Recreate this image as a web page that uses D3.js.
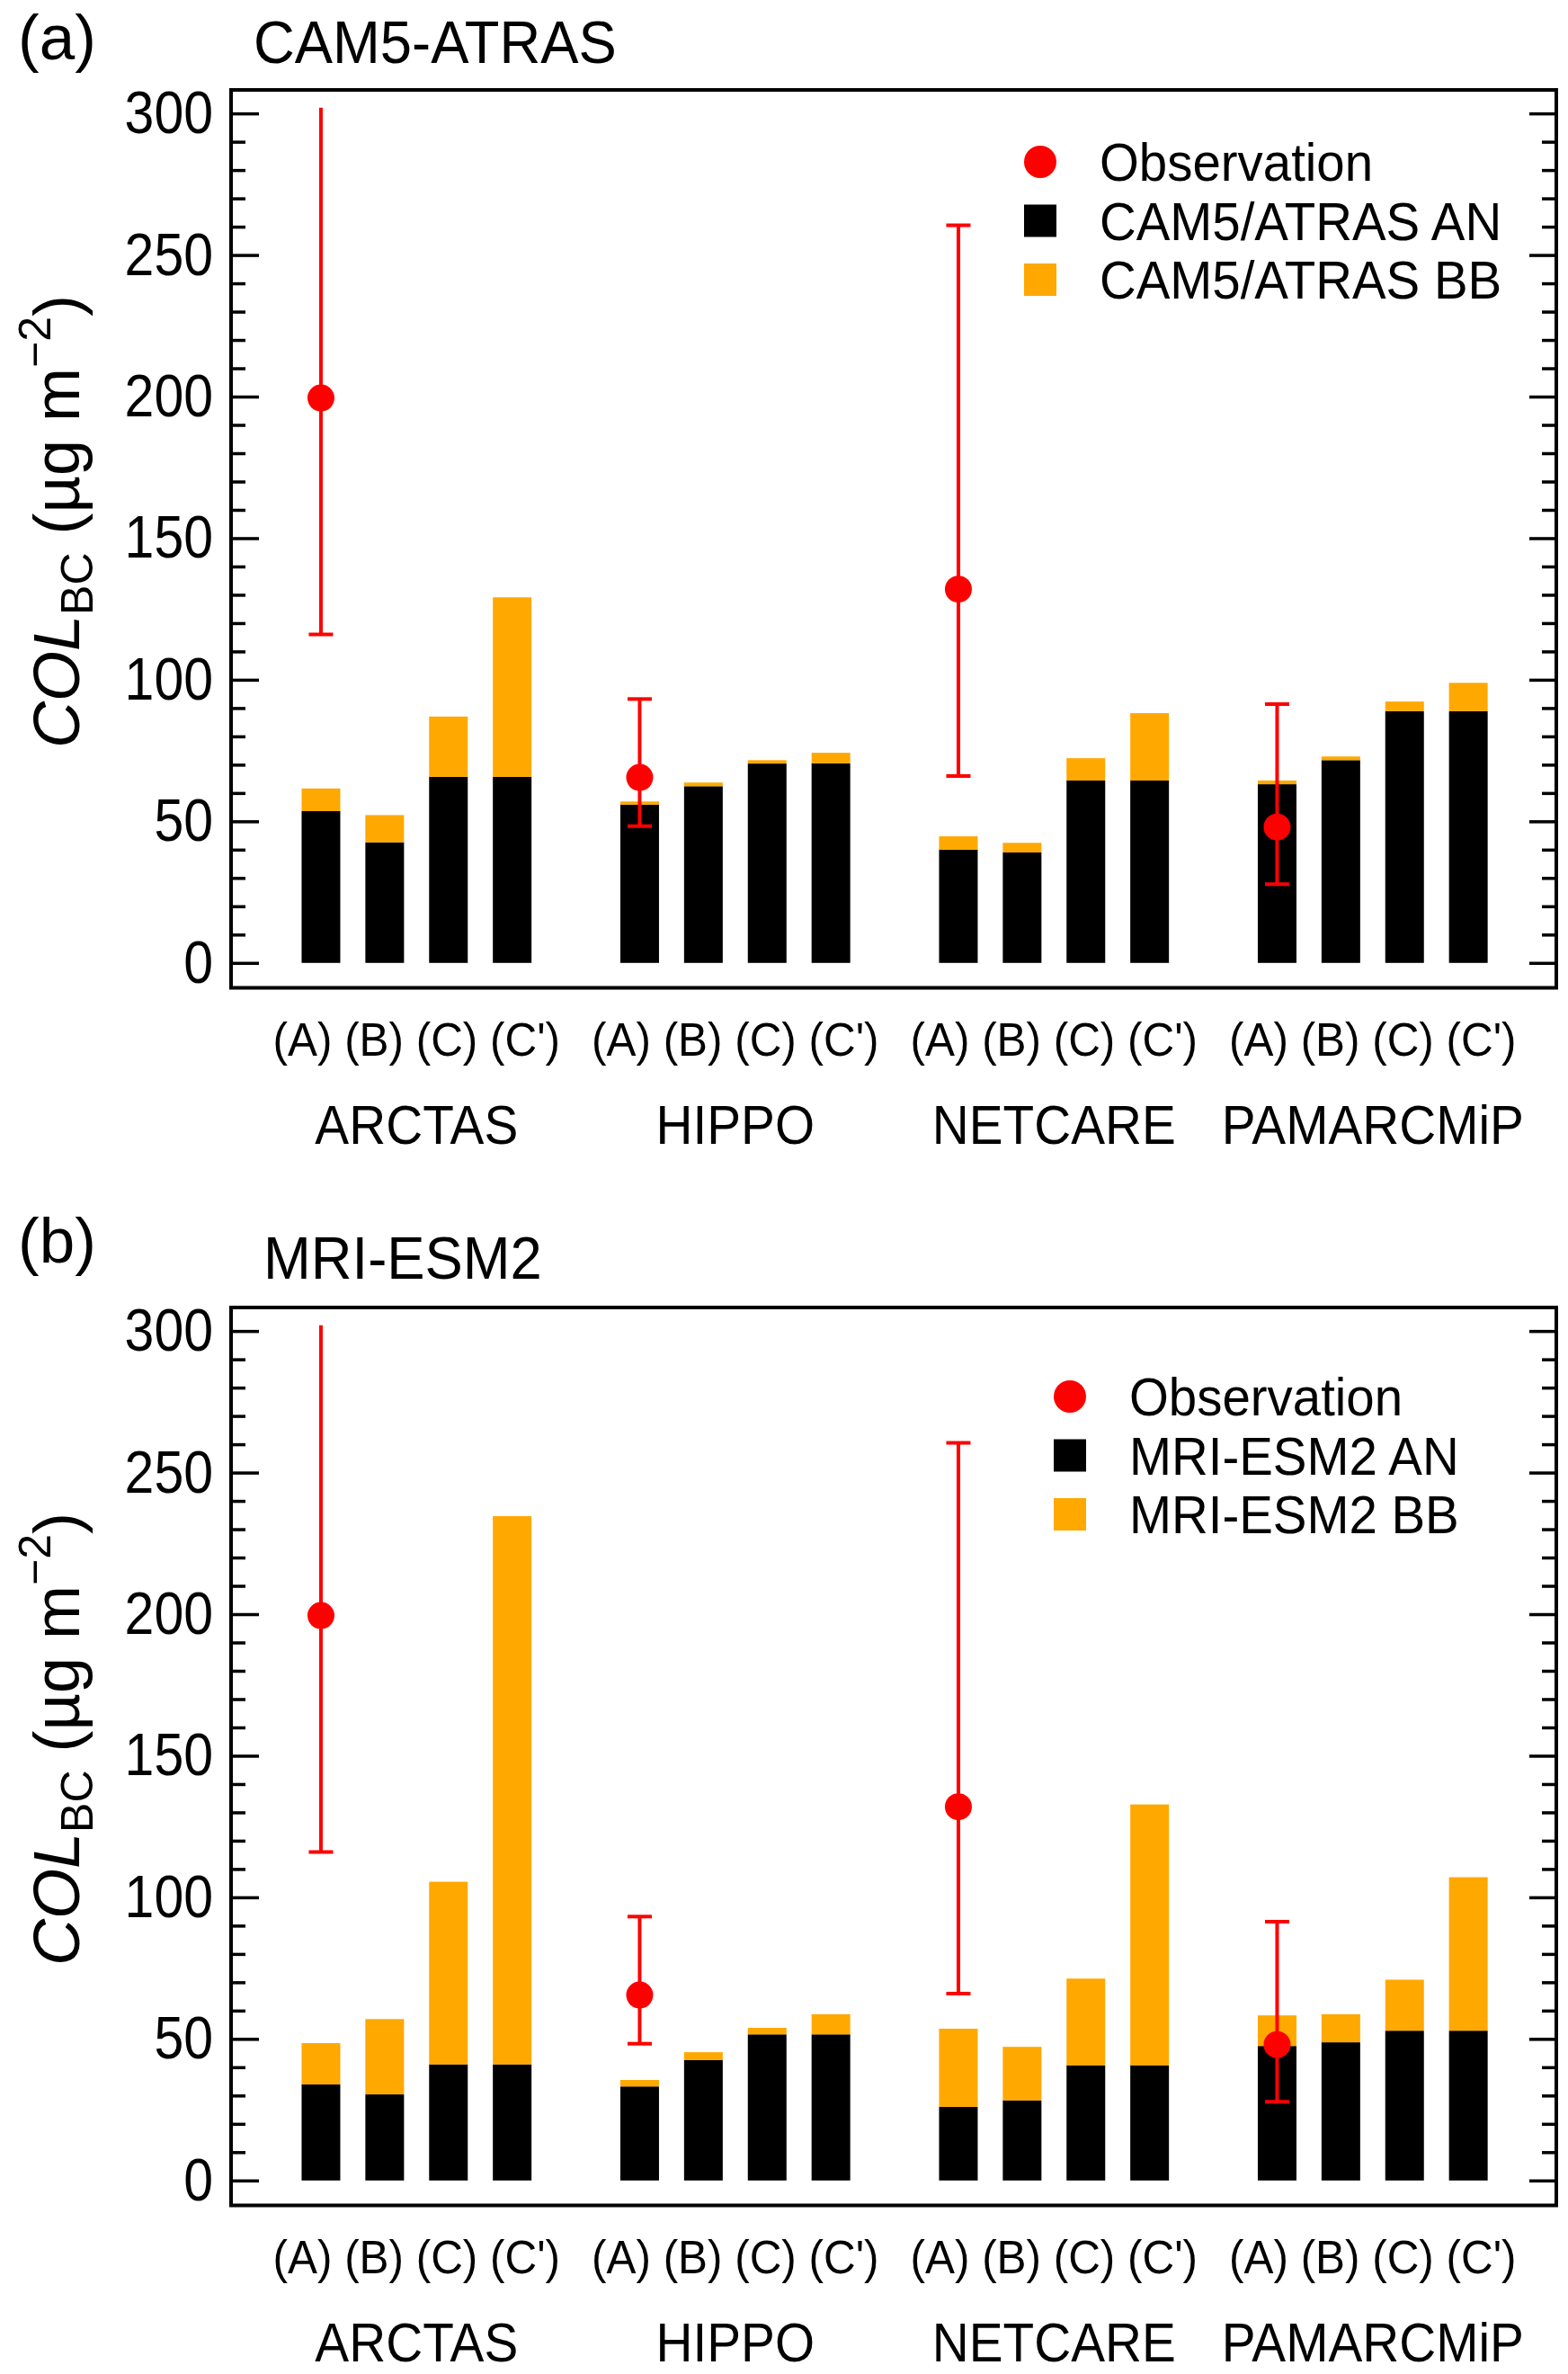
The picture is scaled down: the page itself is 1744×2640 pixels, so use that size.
<!DOCTYPE html>
<html>
<head>
<meta charset="utf-8">
<script src="https://cdn.jsdelivr.net/npm/d3@7"></script>
<style>
  body { margin: 0; background: #fff; }
  text { font-family: "Liberation Sans", Arial, sans-serif; fill: #000; }
</style>
</head>
<body>
<div id="chart"></div>
<script>
// campaigns and model cases
const campaigns = ["ARCTAS", "HIPPO", "NETCARE", "PAMARCMiP"];
const cases = ["(A)", "(B)", "(C)", "(C')"];

// observations (one per campaign)
const obsMean = [199.5, 65.5, 132, 48];
const obsLow = [116, 48.3, 66, 27.8];
const obsHigh = [302, 93.2, 260.5, 91.4];

// CAM5-ATRAS, per campaign x case
const camAN = [53.6, 42.6, 65.7, 65.7, 55.9, 62.4, 70.4, 70.5, 40.0, 39.0, 64.4, 64.4, 63.1, 71.6, 88.9, 88.9];
const camBB = [8.0, 9.6, 21.3, 63.4, 1.1, 1.3, 1.2, 3.7, 4.7, 3.4, 7.9, 23.8, 1.3, 1.3, 3.4, 10.0];

// MRI-ESM2, per campaign x case
const mriAN = [33.9, 30.4, 41.0, 41.0, 33.2, 42.6, 51.6, 51.6, 26.0, 28.3, 40.7, 40.7, 47.5, 48.8, 52.9, 52.9];
const mriBB = [14.6, 26.6, 64.5, 193.6, 2.3, 2.7, 2.3, 7.1, 27.6, 18.9, 30.6, 92.1, 10.8, 9.9, 18.0, 54.2];

const yTicks = [0, 50, 100, 150, 200, 250, 300];

const W = 1744, H = 2640;
const RED = "#ff0000", ORANGE = "#ffa800";

const panels = [
  { letter: "(a)", letterY: 66, title: "CAM5-ATRAS", titleX: 282, titleY: 70, top: 100,
    an: camAN, bb: camBB, names: ["Observation", "CAM5/ATRAS AN", "CAM5/ATRAS BB"],
    legX: 1157, legY: 180 },
  { letter: "(b)", letterY: 1404, title: "MRI-ESM2", titleX: 293, titleY: 1422, top: 1454,
    an: mriAN, bb: mriBB, names: ["Observation", "MRI-ESM2 AN", "MRI-ESM2 BB"],
    legX: 1190, legY: 1553 }
];

const svg = d3.select("#chart").append("svg")
  .attr("width", W).attr("height", H)
  .attr("viewBox", `0 0 ${W} ${H}`);

svg.append("rect").attr("width", W).attr("height", H).attr("fill", "#fff");

// squeeze a text horizontally (the original font is a bit narrower)
function narrow(sel, k) {
  sel.each(function () {
    const w = this.getComputedTextLength();
    d3.select(this).attr("textLength", w * k).attr("lengthAdjust", "spacingAndGlyphs");
  });
}

// slot index: 4 bars per campaign plus one empty slot between campaigns
const x = d3.scaleLinear().domain([-1.41, 19.38]).range([257, 1731]);
const slot = (g, c) => g * 5 + c;
const barW = 43;

panels.forEach(function (p) {
  const plotH = 998.5;
  const y = d3.scaleLinear().domain([-8.8, 308.3]).range([p.top + plotH, p.top]);
  const g = svg.append("g");

  // panel letter and title
  g.append("text").attr("x", 20).attr("y", p.letterY)
    .style("font-size", "71px").text(p.letter);
  g.append("text").attr("x", p.titleX).attr("y", p.titleY)
    .style("font-size", "66px").text(p.title)
    .call(narrow, 0.96);

  // stacked bars
  const bars = [];
  campaigns.forEach(function (cName, gi) {
    cases.forEach(function (cs, ci) {
      const k = gi * cases.length + ci;
      bars.push({ s: slot(gi, ci), an: p.an[k], bb: p.bb[k] });
    });
  });

  g.selectAll(".an").data(bars).enter().append("rect")
    .attr("x", d => x(d.s) - barW / 2)
    .attr("width", barW)
    .attr("y", d => y(d.an))
    .attr("height", d => y(0) - y(d.an))
    .attr("fill", "#000");

  g.selectAll(".bb").data(bars).enter().append("rect")
    .attr("x", d => x(d.s) - barW / 2)
    .attr("width", barW)
    .attr("y", d => y(d.an + d.bb))
    .attr("height", d => y(d.an) - y(d.an + d.bb))
    .attr("fill", ORANGE);

  // observations with error bars
  const obs = campaigns.map((c, i) => ({ s: slot(i, 0), m: obsMean[i], lo: obsLow[i], hi: obsHigh[i] }));
  const capW = 27;
  g.selectAll(".eb").data(obs).enter().append("line")
    .attr("x1", d => x(d.s)).attr("x2", d => x(d.s))
    .attr("y1", d => y(d.lo)).attr("y2", d => y(d.hi))
    .attr("stroke", RED).attr("stroke-width", 4);
  g.selectAll(".capLo").data(obs).enter().append("line")
    .attr("x1", d => x(d.s) - capW / 2).attr("x2", d => x(d.s) + capW / 2)
    .attr("y1", d => y(d.lo)).attr("y2", d => y(d.lo))
    .attr("stroke", RED).attr("stroke-width", 4);
  g.selectAll(".capHi").data(obs.filter(d => d.hi <= 300)).enter().append("line")
    .attr("x1", d => x(d.s) - capW / 2).attr("x2", d => x(d.s) + capW / 2)
    .attr("y1", d => y(d.hi)).attr("y2", d => y(d.hi))
    .attr("stroke", RED).attr("stroke-width", 4);
  g.selectAll(".dot").data(obs).enter().append("circle")
    .attr("cx", d => x(d.s)).attr("cy", d => y(d.m)).attr("r", 15)
    .attr("fill", RED);

  // axes (ticks inward)
  const x0 = x.range()[0], x1 = x.range()[1];
  const minor = d3.range(0, 301, 10).filter(v => v % 50 !== 0);

  const left = g.append("g").attr("transform", `translate(${x0},0)`)
    .call(d3.axisLeft(y).tickValues(yTicks).tickSize(-31).tickPadding(20).tickSizeOuter(0));
  const leftMinor = g.append("g").attr("transform", `translate(${x0},0)`)
    .call(d3.axisLeft(y).tickValues(minor).tickSize(-16).tickFormat("").tickSizeOuter(0));
  const right = g.append("g").attr("transform", `translate(${x1},0)`)
    .call(d3.axisRight(y).tickValues(yTicks).tickSize(-30).tickFormat("").tickSizeOuter(0));
  const rightMinor = g.append("g").attr("transform", `translate(${x1},0)`)
    .call(d3.axisRight(y).tickValues(minor).tickSize(-16).tickFormat("").tickSizeOuter(0));

  [left, leftMinor, right, rightMinor].forEach(function (a) {
    a.select(".domain").remove();
    a.selectAll(".tick line").attr("stroke", "#000").attr("stroke-width", 3.5);
  });
  left.selectAll(".tick text")
    .style("font-size", "67px")
    .style("font-family", "'Liberation Sans', Arial, sans-serif")
    .attr("fill", "#000")
    .call(narrow, 0.88);

  // frame
  g.append("rect")
    .attr("x", x0).attr("y", p.top)
    .attr("width", x1 - x0).attr("height", plotH)
    .attr("fill", "none").attr("stroke", "#000").attr("stroke-width", 4);

  // category labels
  const bottom = p.top + plotH;
  campaigns.forEach(function (cName, gi) {
    const cx = (x(slot(gi, 0)) + x(slot(gi, cases.length - 1))) / 2;
    g.append("text").attr("x", cx).attr("y", bottom + 57)
      .attr("text-anchor", "middle").attr("dy", "0.35em")
      .style("font-size", "52px").text(cases.join(" "))
      .call(narrow, 0.95);
    g.append("text").attr("x", cx).attr("y", bottom + 173)
      .attr("text-anchor", "middle")
      .style("font-size", "61px").text(cName)
      .call(narrow, 0.93);
  });

  // y axis title
  const yl = g.append("text")
    .attr("transform", `translate(88,${p.top + 480}) rotate(-90)`)
    .attr("text-anchor", "middle")
    .style("font-size", "72px");
  yl.append("tspan").style("font-style", "italic").text("COL");
  yl.append("tspan").attr("dy", 15).style("font-size", "50px").text("BC");
  yl.append("tspan").attr("dy", -15).text(" (\u00b5g m");
  yl.append("tspan").attr("dy", -32).style("font-size", "50px").text("\u22122");
  yl.append("tspan").attr("dy", 32).text(")");

  // legend
  const leg = g.append("g");
  const rowH = 65.5;
  p.names.forEach(function (name, i) {
    const cy = p.legY + i * rowH;
    if (i === 0) {
      leg.append("circle").attr("cx", p.legX).attr("cy", cy).attr("r", 18).attr("fill", RED);
    } else {
      leg.append("rect").attr("x", p.legX - 18).attr("y", cy - 18)
        .attr("width", 36).attr("height", 36)
        .attr("fill", i === 1 ? "#000" : ORANGE);
    }
    leg.append("text").attr("x", p.legX + 66).attr("y", cy).attr("dy", "0.35em")
      .style("font-size", "60px").text(name)
      .call(narrow, 0.94);
  });
});
</script>
</body>
</html>
